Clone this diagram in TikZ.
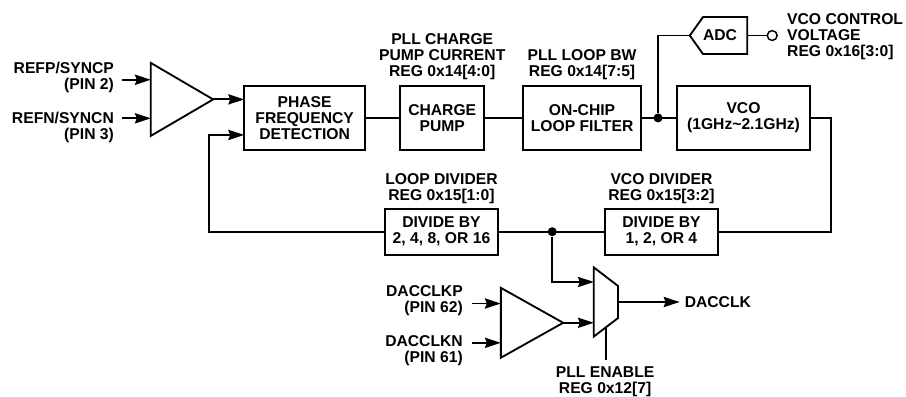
\documentclass[tikz,border=0pt]{standalone}
\usepackage{fontspec}
\setmainfont{Liberation Sans}
\usetikzlibrary{arrows.meta, positioning, shapes.geometric, shapes.symbols}

\begin{document}
\begin{tikzpicture}[
        block/.style={rectangle, draw=black, line width=1.4pt, outer sep=0pt, minimum height=1.69cm, align=center, font=\fontsize{11.8}{12}\selectfont\bfseries},
        divblock/.style={block, minimum height=1.22cm, minimum width=2.99cm},
        amp/.style={isosceles triangle, isosceles triangle stretches, draw=black, line width=1.4pt, inner sep=0pt, outer sep=0pt, anchor=apex, minimum height=1.65cm},
        lab/.style={inner sep=0pt, align=center, font=\fontsize{11.8}{12}\selectfont\bfseries},
        pinlab/.style={lab, align=right, anchor=east},
        wire/.style={line width=1.4pt},
        arr/.style={-{Stealth[length=4.2mm, width=2.7mm, inset=0.5mm]}, line width=1.4pt},
        dot/.style={circle, fill=black, inner sep=0pt, minimum size=0.24cm}
    ]
        \useasboundingbox (0,0) rectangle (23.97,10.50);

        % upper row
        \node[block, minimum width=3.2cm] (pfd) at (8.06,7.38) {PHASE\\FREQUENCY\\DETECTION};
        \node[block, minimum width=2.22cm, right=0.93cm of pfd] (chg) {CHARGE\\PUMP};
        \node[block, minimum width=3.12cm, right=1.03cm of chg] (flt) {ON-CHIP\\LOOP FILTER};
        \node[block, minimum width=3.52cm, right=0.95cm of flt] (vco) {VCO\\(1GHz\textasciitilde 2.1GHz)};
        \node[lab, above=0.16cm of chg] {PLL CHARGE\\PUMP CURRENT\\REG 0x14[4:0]};
        \node[lab, above=0.16cm of flt] {PLL LOOP BW\\REG 0x14[7:5]};

        % input buffer
        \node[amp, minimum width=1.93cm] (ampr) at (5.64,7.87) {};
        \node[pinlab] (refp) at (3.02,8.44) {REFP/SYNCP\\(PIN 2)};
        \node[pinlab] (refn) at (3.02,7.14) {REFN/SYNCN\\(PIN 3)};
        \coordinate (refpin) at (3.23,8.39);
        \coordinate (refnin) at (3.23,7.37);

        % adc readback
        \node[dot] (tapa) at (17.41,7.38) {};
        \node[signal, signal to=west, signal from=nowhere, signal pointer angle=109, draw=black, line width=1.4pt, outer sep=0pt, inner sep=0pt, text width=1.17cm, align=left, minimum height=0.98cm, anchor=east, font=\fontsize{11.8}{12}\selectfont\bfseries] (adc) at (19.77,9.56) {ADC};
        \node[circle, draw=black, line width=1.1pt, fill=white, inner sep=0pt, outer sep=0pt, minimum size=0.26cm, right=0.53cm of adc] (vout) {};
        \node[lab, align=left, anchor=west] (vlab) at (20.82,9.52) {VCO CONTROL\\VOLTAGE\\REG 0x16[3:0]};

        % lower row
        \node[divblock] (dvloop) at (11.68,4.37) {DIVIDE BY\\2, 4, 8, OR 16};
        \node[divblock] (dvvco) at (17.50,4.37) {DIVIDE BY\\1, 2, OR 4};
        \node[lab, above=0.12cm of dvloop] {LOOP DIVIDER\\REG 0x15[1:0]};
        \node[lab, above=0.12cm of dvvco] {VCO DIVIDER\\REG 0x15[3:2]};
        \node[dot] (tapb) at (14.61,4.37) {};
        \coordinate (fbr) at (21.99,4.37);
        \coordinate (fbl) at (5.53,4.37);

        % dac clock path
        \node[amp, minimum width=1.85cm] (ampd) at (14.90,1.96) {};
        \node[pinlab] (dacp) at (12.25,2.55) {DACCLKP\\(PIN 62)};
        \node[pinlab] (dacn) at (12.25,1.22) {DACCLKN\\(PIN 61)};
        \coordinate (dacpin) at (12.49,2.47);
        \coordinate (dacnin) at (12.49,1.43);
        \node[trapezium, trapezium stretches, shape border rotate=270, trapezium left angle=60, trapezium right angle=60, draw=black, line width=1.4pt, inner sep=1pt, outer sep=0pt, minimum width=1.83cm, minimum height=0.64cm] (mux) at (16.03,2.51) {};
        \node[lab, inner sep=0.13cm, right=1.63cm of mux.east, anchor=west] (dacout) {DACCLK};
        \node[lab, anchor=north] (pllen) at (16.01,0.80) {PLL ENABLE\\REG 0x12[7]};
        \coordinate (enend) at (16.03,0.98);

        % connectors
        \draw[arr] (refpin) -- (refpin -| ampr.west);
        \draw[arr] (refnin) -- (refnin -| ampr.west);
        \draw[arr] (ampr.apex) -- (ampr.apex -| pfd.west);
        \draw[wire] (pfd) -- (chg);
        \draw[wire] (chg) -- (flt);
        \draw[wire] (flt) -- (vco);
        \draw[wire] (tapa) |- (adc.west);
        \draw[wire] (adc.east) -- (vout);
        \draw[wire] (vco.east) -| (fbr) -- (dvvco.east);
        \draw[wire] (dvvco) -- (dvloop);
        \draw[arr] (dvloop.west) -- (fbl) |- ([yshift=-0.45cm]pfd.west);
        \draw[arr] (tapb) |- ([yshift=0.53cm]mux.west);
        \draw[arr] (dacpin) -- (dacpin -| ampd.west);
        \draw[arr] (dacnin) -- (dacnin -| ampd.west);
        \draw[arr] (ampd.apex) -- (ampd.apex -| mux.west);
        \draw[arr] (mux.east) -- (dacout);
        \draw[wire] (mux.south) -- (enend);
    \end{tikzpicture}
\end{document}
